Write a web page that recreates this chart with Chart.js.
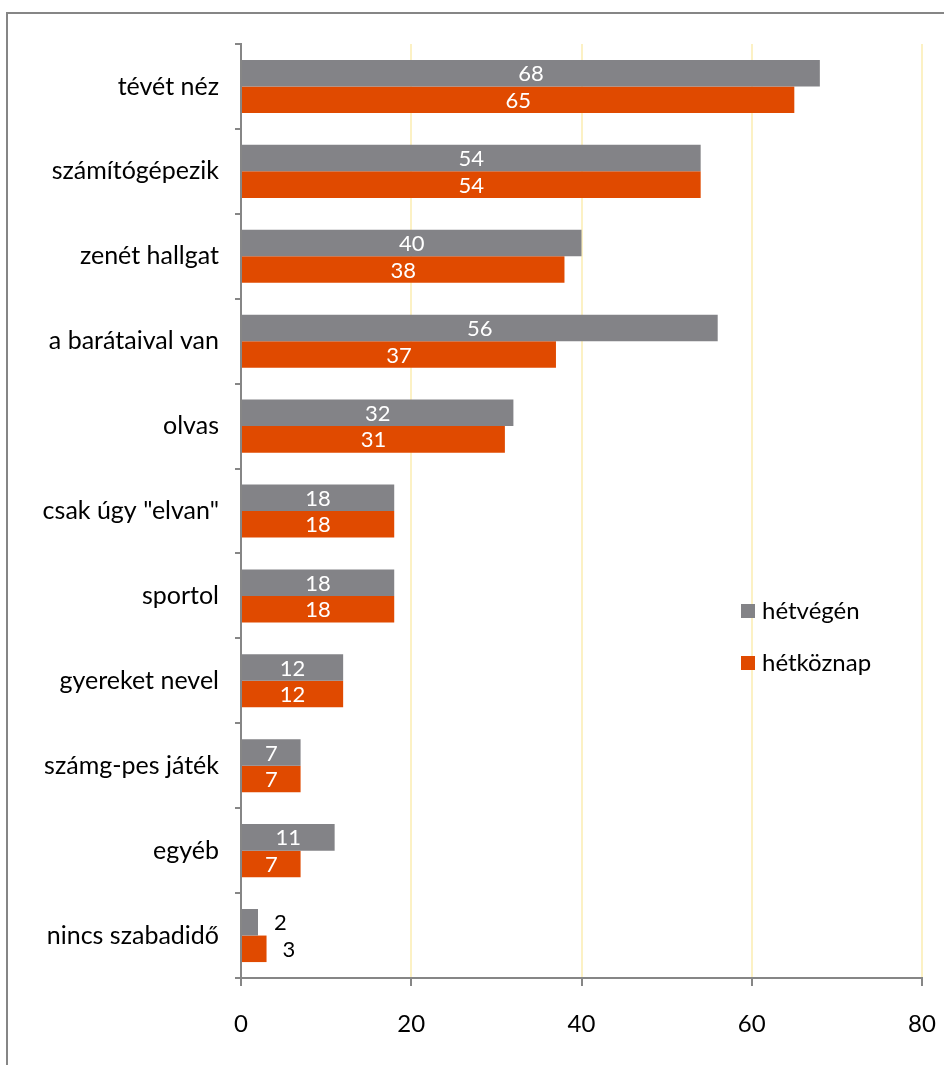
<!DOCTYPE html>
<html>
<head>
<meta charset="utf-8">
<script src="https://cdn.jsdelivr.net/npm/chart.js@4.4.1/dist/chart.umd.min.js"></script>
<style>
  html, body { margin: 0; padding: 0; background: #fff; }
  #wrap { width: 944px; height: 1065px; }
</style>
</head>
<body>
<div id="wrap"><canvas id="chart" width="944" height="1065"></canvas></div>
<script>
const categories = [
  "tévét néz", "számítógépezik", "zenét hallgat", "a barátaival van", "olvas",
  'csak úgy "elvan"', "sportol", "gyereket nevel", "számg-pes játék", "egyéb", "nincs szabadidő"
];
const weekendValues = [68, 54, 40, 56, 32, 18, 18, 12, 7, 11, 2];
const weekdayValues = [65, 54, 38, 37, 31, 18, 18, 12, 7, 7, 3];
const seriesNames = ["hétvégén", "hétköznap"];
const xTicks = [0, 20, 40, 60, 80];

const FONT = "Lato, 'Noto Sans', sans-serif";
const GRAY = "#838387";
const ORANGE = "#e04a00";
const AXIS = "#868686";

// frame around the whole chart (left and top edges visible)
const framePlugin = {
  id: "frame",
  beforeDraw(chart) {
    const ctx = chart.ctx;
    ctx.save();
    ctx.strokeStyle = AXIS;
    ctx.lineWidth = 2;
    ctx.beginPath();
    ctx.moveTo(7, 1065);
    ctx.lineTo(7, 13);
    ctx.lineTo(944, 13);
    ctx.stroke();
    ctx.restore();
  }
};

// value labels: white inside the bar, black after it when the bar is too short
const valueLabels = {
  id: "valueLabels",
  afterDatasetsDraw(chart) {
    const ctx = chart.ctx;
    ctx.save();
    ctx.font = "22px " + FONT;
    ctx.textBaseline = "middle";
    chart.data.datasets.forEach((ds, i) => {
      chart.getDatasetMeta(i).data.forEach((bar, j) => {
        const v = ds.data[j];
        if (v >= 5) {
          ctx.fillStyle = "#fff";
          ctx.textAlign = "center";
          ctx.fillText(String(v), (bar.base + bar.x) / 2, bar.y + 1);
        } else {
          ctx.fillStyle = "#000";
          ctx.textAlign = "left";
          ctx.fillText(String(v), bar.x + 16, bar.y + 1);
        }
      });
    });
    ctx.restore();
  }
};

// legend sitting inside the plot area
const innerLegend = {
  id: "innerLegend",
  afterDraw(chart) {
    const ctx = chart.ctx;
    ctx.save();
    ctx.font = "24px " + FONT;
    ctx.textBaseline = "middle";
    ctx.textAlign = "left";
    chart.data.datasets.forEach((ds, i) => {
      const y = 611 + i * 52;
      ctx.fillStyle = ds.backgroundColor;
      ctx.fillRect(741, y - 7, 14, 14);
      ctx.fillStyle = "#000";
      ctx.fillText(ds.label, 762, y);
    });
    ctx.restore();
  }
};

new Chart(document.getElementById("chart"), {
  type: "bar",
  data: {
    labels: categories,
    datasets: [
      { label: seriesNames[0], data: weekendValues, backgroundColor: GRAY },
      { label: seriesNames[1], data: weekdayValues, backgroundColor: ORANGE }
    ]
  },
  options: {
    indexAxis: "y",
    responsive: false,
    animation: false,
    categoryPercentage: 0.625,
    barPercentage: 1,
    layout: { padding: { top: 44, right: 22, left: 0, bottom: 0 } },
    plugins: {
      legend: { display: false },
      tooltip: { enabled: false }
    },
    scales: {
      x: {
        min: xTicks[0],
        max: xTicks[xTicks.length - 1],
        afterBuildTicks: (s) => { s.ticks = xTicks.map((v) => ({ value: v })); },
        grid: { color: "#fcf1c4", tickColor: AXIS, tickLength: 8, lineWidth: 2 },
        border: { color: AXIS, width: 2 },
        ticks: { color: "#000", font: { family: FONT, size: 24 }, padding: 24 },
        afterFit: (s) => { s.height = 87; s.paddingLeft = 0; s.paddingRight = 0; }
      },
      y: {
        grid: { offset: true, drawOnChartArea: false, color: AXIS, tickLength: 6, lineWidth: 2 },
        border: { color: AXIS, width: 2 },
        ticks: { color: "#000", font: { family: FONT, size: 25 }, padding: 16 },
        afterFit: (s) => { s.width = 241; s.paddingTop = 0; s.paddingBottom = 0; }
      }
    }
  },
  plugins: [framePlugin, valueLabels, innerLegend]
});
</script>
</body>
</html>
